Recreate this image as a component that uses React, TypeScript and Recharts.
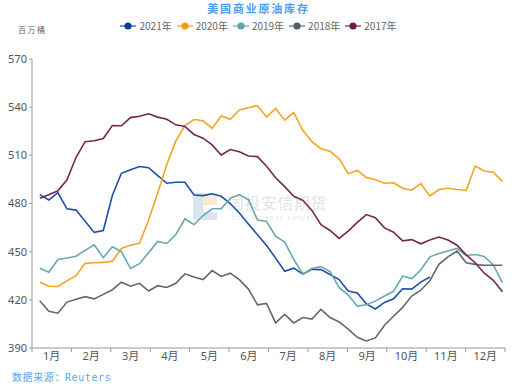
import React from "react"
import { LineChart, Line, XAxis, YAxis, Legend } from "recharts"

// 周度数据（百万桶），每年约52周
const s2021 = [485.5, 482.2, 486.7, 476.7, 475.9, 469, 462, 463.2, 485, 498.8, 501, 503, 502.3, 497.4, 492.6, 493.2, 493.2, 485.3, 484.9, 486.1, 484.5, 480, 474.1, 467.2, 460.5, 453.8, 446, 437.8, 439.7, 436, 439, 438.8, 435.8, 432.6, 425.5, 424.2, 417.5, 414.3, 418.4, 420.6, 426.9, 426.7, 431, 434.2]
const s2020 = [431, 428.5, 428.3, 431.8, 435, 442.7, 443.1, 443.3, 444.1, 452, 454, 455.3, 469.7, 486.5, 504.3, 519, 528.6, 532.3, 531.5, 526.8, 534.5, 532.5, 538.2, 539.6, 541, 533.9, 539.2, 531.9, 536.6, 525.6, 518.5, 514.1, 512.6, 507.8, 498.6, 500.6, 496.2, 494.8, 492.6, 492.9, 489.5, 488.3, 492.4, 484.7, 488.7, 489.5, 488.7, 488.1, 503.3, 500.2, 499.5, 493.8]
const s2019 = [439.7, 437.2, 445.1, 446.1, 447.2, 450.8, 454.3, 446.3, 453, 450, 439.5, 442.5, 449.4, 456.4, 455.1, 460.7, 470.5, 466.8, 472.5, 476.7, 476.7, 483.2, 485.5, 482.4, 469.7, 468.8, 459.6, 456, 445.1, 436.2, 439.5, 440.7, 437.6, 427.7, 423, 416.1, 416.9, 419.2, 422.4, 425.3, 434.8, 433.2, 438.6, 446.8, 448.8, 450.4, 452, 447.6, 448.2, 447, 441.7, 430.7]
const s2018 = [419.4, 412.9, 411.7, 418.6, 420.4, 422, 420.6, 423.4, 426.3, 431, 428.5, 430.3, 425.5, 428.8, 427.7, 430.3, 436.2, 434.2, 432.6, 438.2, 434.6, 436.6, 432.6, 426.7, 416.9, 417.8, 405.6, 410.9, 405.6, 409, 408, 414.1, 409, 406.2, 401.7, 396.7, 394.4, 396.3, 404.2, 409.8, 415.3, 422.4, 426, 431.9, 442.1, 446.8, 450.4, 443.1, 442.1, 441.5, 441.5, 441.5]
const s2017 = [483.2, 485.5, 487.9, 494.8, 508.8, 518.5, 519.1, 520.5, 528.6, 528.4, 533.5, 534.3, 535.9, 533.8, 532.5, 529, 528, 523, 520.7, 516.5, 510.2, 513.6, 512.2, 509.6, 509.2, 503.2, 496, 490.5, 484.5, 482, 475.7, 466.8, 463.2, 458.3, 462.8, 468.2, 473.1, 471.1, 464.8, 462.1, 456.7, 457.5, 454.9, 457.3, 459.1, 457.3, 454, 448, 443.1, 436.6, 432.2, 425.1]

const months = ["1月", "2月", "3月", "4月", "5月", "6月", "7月", "8月", "9月", "10月", "11月", "12月"]
const yTicks = [390, 420, 450, 480, 510, 540, 570]

const series = [
  { key: "y2021", name: "2021年", color: "#1d4fa6", dot: "#0b3d91" },
  { key: "y2020", name: "2020年", color: "#f5a41e", dot: "#f39c12" },
  { key: "y2019", name: "2019年", color: "#6aa8ae", dot: "#5fa3aa" },
  { key: "y2018", name: "2018年", color: "#5c6a73", dot: "#4f5e68" },
  { key: "y2017", name: "2017年", color: "#72294f", dot: "#6a1d45" }
]

// 第 i 周 → 月份坐标（0~12）
const data = s2020.map((_, i) => ({
  m: ((6 + 7 * i) / 365) * 12,
  y2021: s2021[i],
  y2020: s2020[i],
  y2019: s2019[i],
  y2018: s2018[i],
  y2017: s2017[i]
}))

const W = 517
const H = 387
const plotLeft = 32
const plotRight = 12
const halfMonth = (W - plotLeft - plotRight) / 24

function MonthTick(props: any) {
  const { x, y, payload } = props
  if (payload.value >= 12) return null
  return (
    <text x={x + halfMonth} y={y} dy="0.71em" textAnchor="middle" fontSize={11} fill="#555">
      {months[payload.value]}
    </text>
  )
}

function LegendBox() {
  return (
    <div style={{ display: "flex", justifyContent: "center", gap: 5, fontSize: 10, color: "#666", fontFamily: "'Noto Sans CJK SC', sans-serif" }}>
      {series.map(s => (
        <div key={s.key} style={{ display: "flex", alignItems: "center" }}>
          <svg width={16} height={10} style={{ marginRight: 3 }}>
            <line x1={0} y1={5} x2={16} y2={5} stroke={s.color} strokeWidth={1.2} />
            <circle cx={8} cy={5} r={3.6} fill={s.dot} />
          </svg>
          <span>{s.name}</span>
        </div>
      ))}
    </div>
  )
}

export default function App() {
  return (
    <div style={{ position: "absolute", left: 0, top: 0, width: W, height: H, background: "#fff", fontFamily: "'Noto Sans', 'Noto Sans CJK SC', sans-serif" }}>
      <div style={{ position: "absolute", top: 0, width: W, textAlign: "center", fontSize: 11, fontWeight: 700, color: "#4b9ef2", letterSpacing: 1.8, fontFamily: "'Noto Sans CJK SC', serif", lineHeight: "16px" }}>
        美国商业原油库存
      </div>
      <div style={{ position: "absolute", left: 18, top: 24, fontSize: 8, color: "#666", letterSpacing: 1.5, fontFamily: "'Noto Sans CJK SC', sans-serif" }}>
        百万桶
      </div>
      {/* 水印 */}
      <div style={{ position: "absolute", left: 193, top: 193, width: 10, height: 26, background: "#dbe4f2" }} />
      <div style={{ position: "absolute", left: 193, top: 212, width: 24, height: 8, background: "#dbe4f2" }} />
      <div style={{ position: "absolute", left: 203, top: 193, width: 14, height: 12, background: "#fbe9cf" }} />
      <div style={{ position: "absolute", left: 228, top: 192, fontSize: 16, color: "#e4e4e4", letterSpacing: 0.5, fontFamily: "'Noto Sans CJK SC', sans-serif", lineHeight: "20px" }}>
        国投安信期货
      </div>
      <div style={{ position: "absolute", left: 232, top: 215, fontSize: 5, color: "#e4e4e4", letterSpacing: 1.6 }}>
        SDIC ESSENCE FUTURES
      </div>
      <LineChart width={W} height={H} data={data} margin={{ top: 44, right: plotRight, bottom: 9, left: 0 }}>
        <Legend verticalAlign="top" content={<LegendBox />} wrapperStyle={{ top: 18, left: 0, width: W }} />
        <XAxis
          type="number"
          dataKey="m"
          domain={[0, 12]}
          ticks={[0, 1, 2, 3, 4, 5, 6, 7, 8, 9, 10, 11, 12]}
          interval={0}
          height={30}
          tickSize={4}
          tickMargin={0}
          stroke="#999"
          tick={<MonthTick />}
        />
        <YAxis
          domain={[390, 570]}
          ticks={yTicks}
          interval={0}
          width={plotLeft}
          tickSize={3}
          stroke="#999"
          tick={{ fontSize: 11, fill: "#555" }}
        />
        {series.map(s => (
          <Line key={s.key} dataKey={s.key} name={s.name} stroke={s.color} strokeWidth={1.6} dot={false} isAnimationActive={false} />
        ))}
      </LineChart>
      <div style={{ position: "absolute", left: 12, top: 369, fontSize: 10, color: "#5aa5f0", letterSpacing: 0.6, fontFamily: "'DejaVu Sans Mono', 'Noto Sans CJK SC', monospace" }}>
        数据来源：Reuters
      </div>
    </div>
  )
}
